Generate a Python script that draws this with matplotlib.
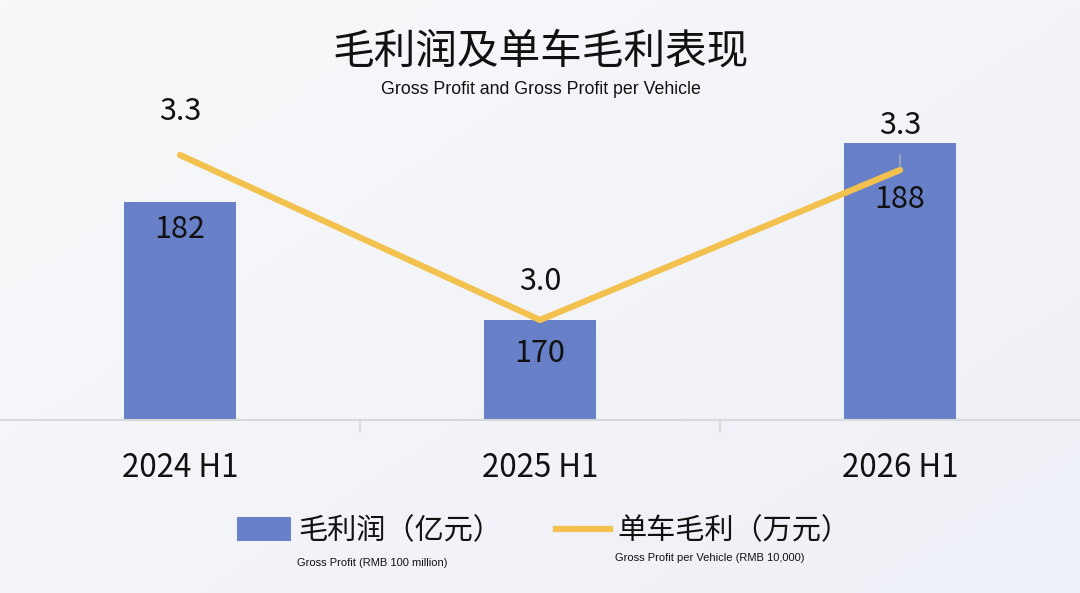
import numpy as np
import matplotlib.pyplot as plt
from matplotlib.lines import Line2D
from matplotlib.patches import Patch

plt.rcParams['font.family'] = ['Noto Sans CJK SC', 'DejaVu Sans']

# data
periods = ['2024 H1', '2025 H1', '2026 H1']
gross_profit = [182, 170, 188]          # 亿元
profit_per_vehicle = [3.33, 3.0, 3.30]  # 万元
pv_labels = ['3.3', '3.0', '3.3']

bar_color = '#6780c8'
line_color = '#f2c14e'

fig = plt.figure(figsize=(10.8, 5.93), dpi=100)
fig.patch.set_facecolor('#f4f5f9')

# soft background gradient
bg = fig.add_axes([0, 0, 1, 1], zorder=-10)
gx, gy = np.meshgrid(np.linspace(0, 1, 200), np.linspace(0, 1, 120))
grad = 0.55 * gx + 0.45 * gy
bg.imshow(grad, cmap=plt.matplotlib.colors.LinearSegmentedColormap.from_list(
    'bg', ['#f8f9fa', '#eef0f7']), aspect='auto', extent=[0, 1, 0, 1], origin='upper')
bg.axis('off')

ax = fig.add_axes([0, 1 - 420 / 593, 1.0, 320 / 593])
ax.patch.set_alpha(0)
x = np.arange(len(periods))
ax.bar(x, gross_profit, width=0.31, color=bar_color, zorder=2)
ax.set_xlim(-0.5, 2.5)
ax.set_ylim(159.8, 192.4)

for s in ['top', 'right', 'left']:
    ax.spines[s].set_visible(False)
ax.spines['bottom'].set_color('#d9d9d9')
ax.spines['bottom'].set_linewidth(1.5)
ax.set_yticks([])
ax.set_xticks(x)
ax.set_xticklabels(periods, fontsize=22.5, color='#111111')
ax.tick_params(axis='x', length=0, pad=23)
# category dividers
ax.set_xticks([0.5, 1.5], minor=True)
ax.tick_params(axis='x', which='minor', length=9, width=1.3, color='#d9d9d9')

bar_offsets = [-27, -34, -56]
for xi, v, off in zip(x, gross_profit, bar_offsets):
    ax.annotate(str(v), (xi, v), xytext=(0, off * 0.72), textcoords='offset points',
                ha='center', va='center', fontsize=22, color='#111111', zorder=5)

ax2 = ax.twinx()
ax2.set_ylim(2.8, 3.44)
ax2.plot(x, profit_per_vehicle, color=line_color, lw=4.5, solid_capstyle='round', zorder=3)
ax2.axis('off')

line_offsets = [43, 38, 45]
for xi, v, lab, off in zip(x, profit_per_vehicle, pv_labels, line_offsets):
    ax2.annotate(lab, (xi, v), xytext=(0, off * 0.72), textcoords='offset points',
                 ha='center', va='center', fontsize=22, color='#111111')
# leader line for the last label
ax2.annotate('', (x[2], profit_per_vehicle[2]), xytext=(0, 13), textcoords='offset points',
             arrowprops=dict(arrowstyle='-', color='#b0b0b0', lw=1))

# titles
fig.text(0.501, 1 - 52 / 593, '毛利润及单车毛利表现', ha='center', va='center',
         fontsize=30, color='#111111')
fig.text(0.501, 1 - 89 / 593, 'Gross Profit and Gross Profit per Vehicle', ha='center',
         va='center', fontsize=12.8, color='#111111', family='Liberation Sans')

# legend
handles = [Patch(facecolor=bar_color), Line2D([0], [0], color=line_color, lw=4.5)]
leg1 = fig.legend([handles[0]], ['毛利润（亿元）'], loc='center left',
                  bbox_to_anchor=(211 / 1080, 1 - 531 / 593), frameon=False, fontsize=21,
                  handlelength=1.85, handleheight=0.85, handletextpad=0.25)
leg2 = fig.legend([handles[1]], ['单车毛利（万元）'], loc='center left',
                  bbox_to_anchor=(530 / 1080, 1 - 531 / 593), frameon=False, fontsize=21,
                  handlelength=1.85, handletextpad=0.25)
for lg in (leg1, leg2):
    for t in lg.get_texts():
        t.set_color('#111111')

fig.text(372 / 1080, 1 - 563 / 593, 'Gross Profit (RMB 100 million)', ha='center',
         va='center', fontsize=8, color='#111111', family='Liberation Sans')
fig.text(710 / 1080, 1 - 558 / 593, 'Gross Profit per Vehicle (RMB 10,000)', ha='center',
         va='center', fontsize=8, color='#111111', family='Liberation Sans')

fig.savefig('out.png', dpi=100, facecolor=fig.get_facecolor())
